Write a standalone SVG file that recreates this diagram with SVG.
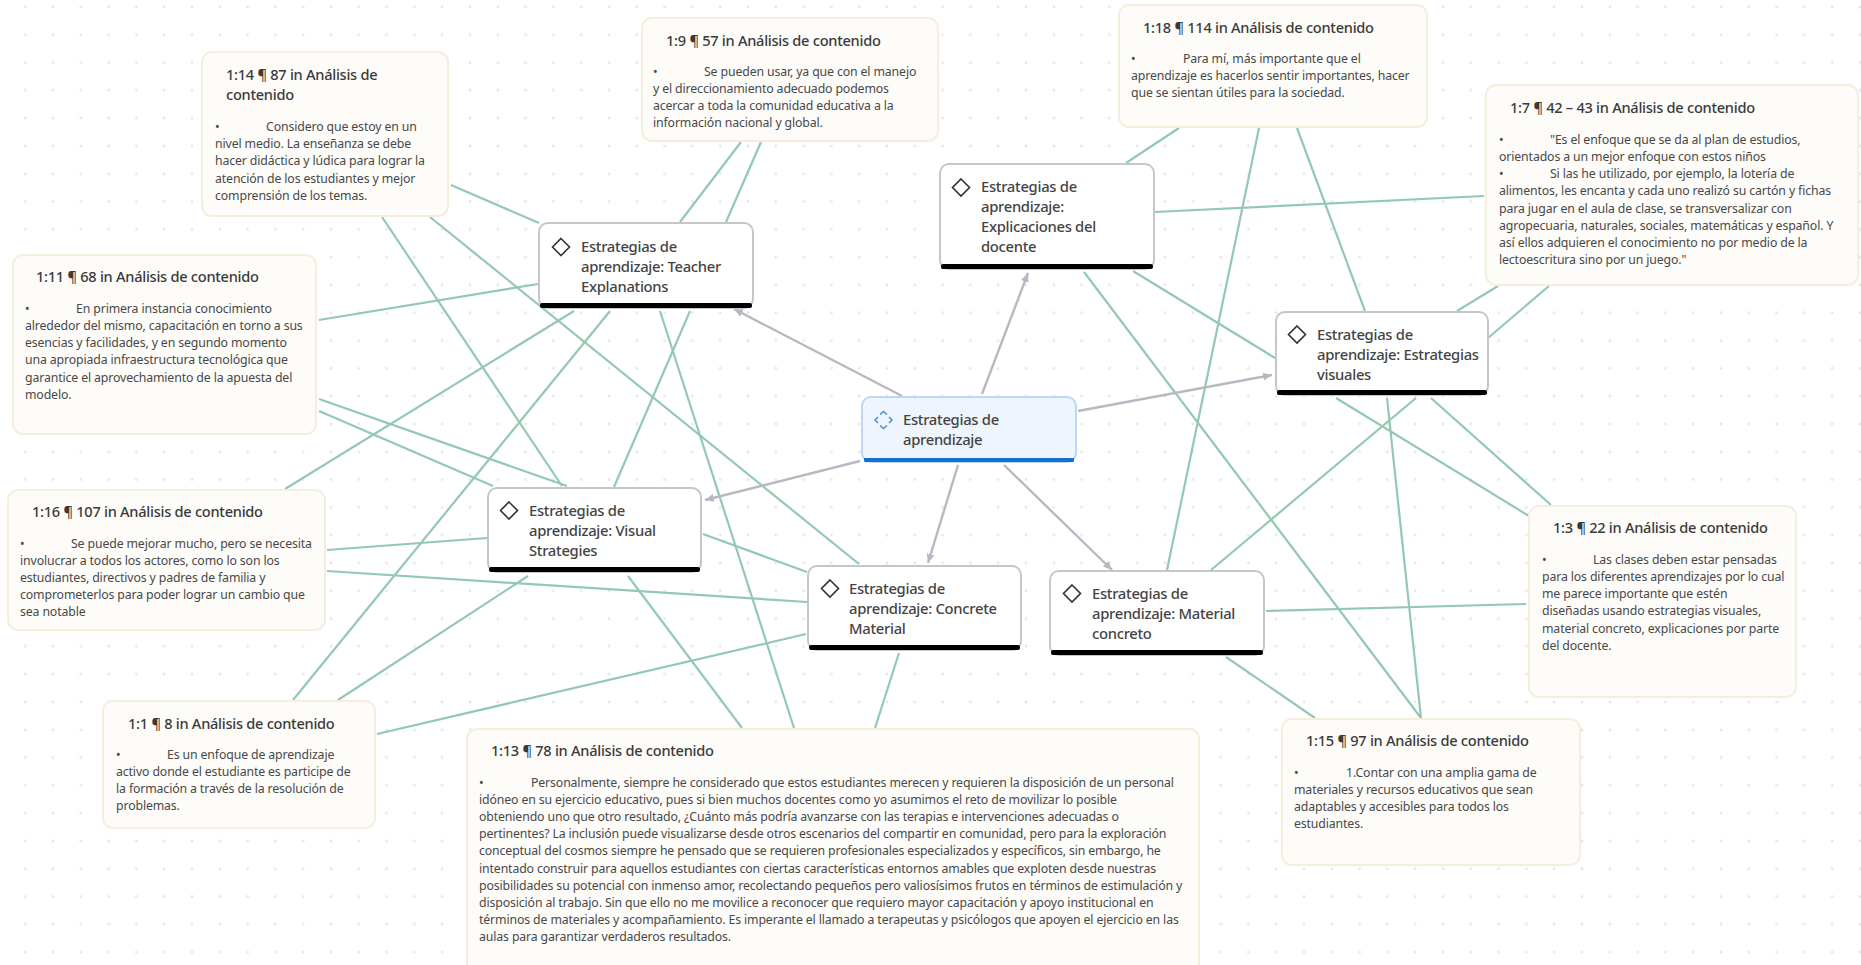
<svg xmlns="http://www.w3.org/2000/svg" width="1861" height="965" viewBox="0 0 1861 965">
<style>
text{font-family:"Noto Sans","Open Sans","Liberation Sans",sans-serif}
.n rect.b{fill:#fdfcf9;stroke:#f6eedd;stroke-width:2}
.t{font-size:14.6px;font-weight:500;fill:#3a3a3a;letter-spacing:-.27px}
.x{font-size:12.3px;fill:#484848;letter-spacing:-.13px;transform:translateY(-.5px)}
.m rect.b{fill:#fff;stroke:#c6c6c8;stroke-width:2}
.m text,.c text{font-size:14.8px;font-weight:500;fill:#444;letter-spacing:-.3px}
.d{fill:#fff;stroke:#333;stroke-width:1.6}
.g line{stroke:#93c9b1;stroke-width:2.2}
.a line{stroke:#b9b7c2;stroke-width:2.4;marker-end:url(#ah)}
</style>
<defs>
<pattern id="dots" width="27.8" height="27.8" patternUnits="userSpaceOnUse" x="1012.100" y="271.100"><circle cx="13.900" cy="13.900" r="1.4" fill="#e6e6e6"/></pattern>
<marker id="ah" markerWidth="10" markerHeight="10" refX="9" refY="5" orient="auto" markerUnits="userSpaceOnUse"><path d="M0 1L9 5L0 9z" fill="#b9b7c2"/></marker>
</defs>
<rect width="1861" height="965" fill="#fff"/>
<rect width="1861" height="965" fill="url(#dots)"/>
<g id="connectors">
<g class="g">
<line x1="451" y1="185" x2="539" y2="223"/>
<line x1="382" y1="217" x2="562" y2="486"/>
<line x1="430" y1="217" x2="859" y2="564"/>
<line x1="741" y1="142" x2="680" y2="222"/>
<line x1="761" y1="142" x2="726" y2="222"/>
<line x1="1179" y1="128" x2="1126" y2="163"/>
<line x1="1259" y1="128" x2="1167" y2="570"/>
<line x1="1297" y1="128" x2="1365" y2="311"/>
<line x1="1484" y1="196" x2="1155" y2="212"/>
<line x1="1498" y1="286" x2="1457" y2="311"/>
<line x1="1549" y1="286" x2="1488" y2="338"/>
<line x1="319" y1="320" x2="538" y2="284"/>
<line x1="319" y1="399" x2="567" y2="486"/>
<line x1="319" y1="411" x2="493" y2="486"/>
<line x1="327" y1="550" x2="487" y2="538"/>
<line x1="327" y1="571" x2="807" y2="602"/>
<line x1="285" y1="489" x2="574" y2="311"/>
<line x1="293" y1="700" x2="610" y2="311"/>
<line x1="338" y1="700" x2="528" y2="576"/>
<line x1="377" y1="734" x2="806" y2="634"/>
<line x1="794" y1="728" x2="660" y2="311"/>
<line x1="742" y1="728" x2="628" y2="576"/>
<line x1="875" y1="728" x2="899" y2="653"/>
<line x1="614" y1="487" x2="690" y2="311"/>
<line x1="703" y1="534" x2="807" y2="572"/>
<line x1="1133" y1="271" x2="1275" y2="358"/>
<line x1="1084" y1="272" x2="1421" y2="718"/>
<line x1="1211" y1="570" x2="1416" y2="398"/>
<line x1="1529" y1="516" x2="1336" y2="398"/>
<line x1="1551" y1="505" x2="1431" y2="398"/>
<line x1="1526" y1="604" x2="1266" y2="611"/>
<line x1="1315" y1="718" x2="1226" y2="657"/>
<line x1="1421" y1="718" x2="1387" y2="398"/>
</g>
<g class="a">
<line x1="902" y1="396" x2="734" y2="309"/>
<line x1="982" y1="394" x2="1028" y2="273"/>
<line x1="1078" y1="411" x2="1272" y2="375"/>
<line x1="860" y1="461" x2="705" y2="500"/>
<line x1="958" y1="465" x2="928" y2="563"/>
<line x1="1004" y1="465" x2="1112" y2="570"/>
</g>
</g>
<g id="note-1-14" class="n"><rect class="b" x="202" y="52" width="246" height="164" rx="10"/>
<text class="t" x="226" y="80">1:14 ¶ 87 in Análisis de</text><text class="t" x="226" y="100">contenido</text>
<g class="x"><text x="215" y="131">•</text><text x="266" y="131">Considero que estoy en un</text><text x="215" y="148">nivel medio. La enseñanza se debe</text><text x="215" y="165.500">hacer didáctica y lúdica para lograr la</text><text x="215" y="183">atención de los estudiantes y mejor</text><text x="215" y="200">comprensión de los temas.</text></g></g>
<g id="note-1-9" class="n"><rect class="b" x="642" y="18" width="296" height="123" rx="10"/>
<text class="t" x="666" y="46">1:9 ¶ 57 in Análisis de contenido</text>
<g class="x"><text x="653" y="76">•</text><text x="704" y="76">Se pueden usar, ya que con el manejo</text><text x="653" y="93">y el direccionamiento adecuado podemos</text><text x="653" y="110">acercar a toda la comunidad educativa a la</text><text x="653" y="127">información nacional y global.</text></g></g>
<g id="note-1-18" class="n"><rect class="b" x="1119" y="5" width="308" height="122" rx="10"/>
<text class="t" x="1143" y="33">1:18 ¶ 114 in Análisis de contenido</text>
<g class="x"><text x="1131" y="63">•</text><text x="1183" y="63">Para mí, más importante que el</text><text x="1131" y="80">aprendizaje es hacerlos sentir importantes, hacer</text><text x="1131" y="97">que se sientan útiles para la sociedad.</text></g></g>
<g id="note-1-7" class="n"><rect class="b" x="1486" y="85" width="372" height="200" rx="10"/>
<text class="t" x="1510" y="113">1:7 ¶ 42 – 43 in Análisis de contenido</text>
<g class="x"><text x="1499" y="144">•</text><text x="1550" y="144">"Es el enfoque que se da al plan de estudios,</text><text x="1499" y="161">orientados a un mejor enfoque con estos niños</text><text x="1499" y="178">•</text><text x="1550" y="178">Si las he utilizado, por ejemplo, la lotería de</text><text x="1499" y="195.500">alimentos, les encanta y cada uno realizó su cartón y fichas</text><text x="1499" y="213">para jugar en el aula de clase, se transversalizar con</text><text x="1499" y="230">agropecuaria, naturales, sociales, matemáticas y español. Y</text><text x="1499" y="247.500">así ellos adquieren el conocimiento no por medio de la</text><text x="1499" y="264.500">lectoescritura sino por un juego."</text></g></g>
<g id="note-1-11" class="n"><rect class="b" x="13" y="255" width="303" height="179" rx="10"/>
<text class="t" x="36" y="282">1:11 ¶ 68 in Análisis de contenido</text>
<g class="x"><text x="25" y="313">•</text><text x="76" y="313">En primera instancia conocimiento</text><text x="25" y="330">alrededor del mismo, capacitación en torno a sus</text><text x="25" y="347.500">esencias y facilidades, y en segundo momento</text><text x="25" y="364.500">una apropiada infraestructura tecnológica que</text><text x="25" y="382">garantice el aprovechamiento de la apuesta del</text><text x="25" y="399">modelo.</text></g></g>
<g id="note-1-16" class="n"><rect class="b" x="8" y="490" width="317" height="140" rx="10"/>
<text class="t" x="32" y="517">1:16 ¶ 107 in Análisis de contenido</text>
<g class="x"><text x="20" y="548">•</text><text x="71" y="548">Se puede mejorar mucho, pero se necesita</text><text x="20" y="565">involucrar a todos los actores, como lo son los</text><text x="20" y="582.500">estudiantes, directivos y padres de familia y</text><text x="20" y="599.500">comprometerlos para poder lograr un cambio que</text><text x="20" y="616.500">sea notable</text></g></g>
<g id="note-1-1" class="n"><rect class="b" x="103" y="701" width="272" height="127" rx="10"/>
<text class="t" x="128" y="729">1:1 ¶ 8 in Análisis de contenido</text>
<g class="x"><text x="116" y="759">•</text><text x="167" y="759">Es un enfoque de aprendizaje</text><text x="116" y="776">activo donde el estudiante es participe de</text><text x="116" y="793.500">la formación a través de la resolución de</text><text x="116" y="810.500">problemas.</text></g></g>
<g id="note-1-13" class="n"><rect class="b" x="467" y="729" width="732" height="245" rx="10"/>
<text class="t" x="491" y="756">1:13 ¶ 78 in Análisis de contenido</text>
<g class="x"><text x="479" y="787">•</text><text x="531" y="787">Personalmente, siempre he considerado que estos estudiantes merecen y requieren la disposición de un personal</text><text x="479" y="804">idóneo en su ejercicio educativo, pues si bien muchos docentes como yo asumimos el reto de movilizar lo posible</text><text x="479" y="821.500">obteniendo uno que otro resultado, ¿Cuánto más podría avanzarse con las terapias e intervenciones adecuadas o</text><text x="479" y="838.500">pertinentes? La inclusión puede visualizarse desde otros escenarios del compartir en comunidad, pero para la exploración</text><text x="479" y="855.500">conceptual del cosmos siempre he pensado que se requieren profesionales especializados y específicos, sin embargo, he</text><text x="479" y="873">intentado construir para aquellos estudiantes con ciertas características entornos amables que exploten desde nuestras</text><text x="479" y="890">posibilidades su potencial con inmenso amor, recolectando pequeños pero valiosísimos frutos en términos de estimulación y</text><text x="479" y="907">disposición al trabajo. Sin que ello no me movilice a reconocer que requiero mayor capacitación y apoyo institucional en</text><text x="479" y="924.500">términos de materiales y acompañamiento. Es imperante el llamado a terapeutas y psicólogos que apoyen el ejercicio en las</text><text x="479" y="941.500">aulas para garantizar verdaderos resultados.</text></g></g>
<g id="note-1-3" class="n"><rect class="b" x="1529" y="506" width="267" height="191" rx="10"/>
<text class="t" x="1553" y="533">1:3 ¶ 22 in Análisis de contenido</text>
<g class="x"><text x="1542" y="564">•</text><text x="1593" y="564">Las clases deben estar pensadas</text><text x="1542" y="581">para los diferentes aprendizajes por lo cual</text><text x="1542" y="598.500">me parece importante que estén</text><text x="1542" y="615.500">diseñadas usando estrategias visuales,</text><text x="1542" y="633">material concreto, explicaciones por parte</text><text x="1542" y="650">del docente.</text></g></g>
<g id="note-1-15" class="n"><rect class="b" x="1282" y="719" width="298" height="146" rx="10"/>
<text class="t" x="1306" y="746">1:15 ¶ 97 in Análisis de contenido</text>
<g class="x"><text x="1294" y="777">•</text><text x="1346" y="777">1.Contar con una amplia gama de</text><text x="1294" y="794">materiales y recursos educativos que sean</text><text x="1294" y="811.500">adaptables y accesibles para todos los</text><text x="1294" y="828.500">estudiantes.</text></g></g>
<g id="central" class="c"><rect x="862" y="397" width="214" height="65" rx="9" fill="#eef5fd" stroke="#bcd8f3" stroke-width="2"/><path d="M864 458h210v2a2 2 0 0 1-3 2H867a2 2 0 0 1-3-2z" fill="#1570d6"/><path d="M880 414.500l3.500-3 3.500 3M880 425.500l3.500 3 3.500-3M878 417l-3 3 3 3M889 417l3 3-3 3" fill="none" stroke="#4c8fc9" stroke-width="1.5"/><text x="903" y="425">Estrategias de</text><text x="903" y="445">aprendizaje</text></g>
<g id="teacher" class="m"><rect class="b" x="539" y="223" width="214" height="85" rx="9"/><rect x="540" y="303" width="212" height="5" rx="2" fill="#000"/><path class="d" d="M561 238.500l8.500 8.500-8.500 8.500-8.500-8.500z"/><text x="581" y="251.500">Estrategias de</text><text x="581" y="271.500">aprendizaje: Teacher</text><text x="581" y="291.500">Explanations</text></g>
<g id="explicaciones" class="m"><rect class="b" x="940" y="164" width="214" height="105" rx="9"/><rect x="941" y="264" width="212" height="5" rx="2" fill="#000"/><path class="d" d="M961 179l8.500 8.500-8.500 8.500-8.500-8.500z"/><text x="981" y="192">Estrategias de</text><text x="981" y="212">aprendizaje:</text><text x="981" y="232">Explicaciones del</text><text x="981" y="252">docente</text></g>
<g id="visuales" class="m"><rect class="b" x="1276" y="312" width="212" height="83" rx="9"/><rect x="1277" y="390" width="210" height="5" rx="2" fill="#000"/><path class="d" d="M1297 326l8.500 8.500-8.500 8.500-8.500-8.500z"/><text x="1317" y="340">Estrategias de</text><text x="1317" y="360">aprendizaje: Estrategias</text><text x="1317" y="380">visuales</text></g>
<g id="visual-strategies" class="m"><rect class="b" x="488" y="488" width="213" height="84" rx="9"/><rect x="489" y="567" width="211" height="5" rx="2" fill="#000"/><path class="d" d="M509 502l8.500 8.500-8.500 8.500-8.500-8.500z"/><text x="529" y="515.500">Estrategias de</text><text x="529" y="535.500">aprendizaje: Visual</text><text x="529" y="555.500">Strategies</text></g>
<g id="concrete" class="m"><rect class="b" x="808" y="566" width="213" height="84" rx="9"/><rect x="809" y="645" width="211" height="5" rx="2" fill="#000"/><path class="d" d="M830 580l8.500 8.500-8.500 8.500-8.500-8.500z"/><text x="849" y="594">Estrategias de</text><text x="849" y="614">aprendizaje: Concrete</text><text x="849" y="634">Material</text></g>
<g id="material" class="m"><rect class="b" x="1050" y="571" width="214" height="84" rx="9"/><rect x="1051" y="650" width="212" height="5" rx="2" fill="#000"/><path class="d" d="M1072 585l8.500 8.500-8.500 8.500-8.500-8.500z"/><text x="1092" y="598.500">Estrategias de</text><text x="1092" y="618.500">aprendizaje: Material</text><text x="1092" y="638.500">concreto</text></g>
</svg>
